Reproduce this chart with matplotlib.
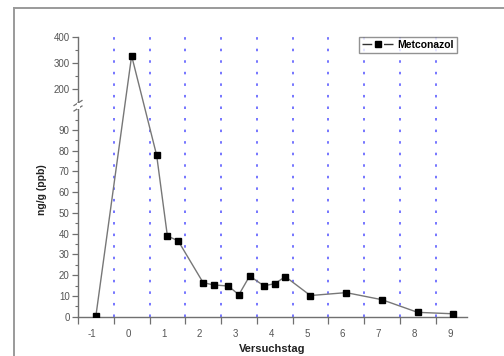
import matplotlib
matplotlib.use("Agg")
import matplotlib.pyplot as plt
import numpy as np
from matplotlib.lines import Line2D

# data
days = [-0.9, 0.1, 0.8, 1.1, 1.4, 2.1, 2.4, 2.8, 3.1, 3.4, 3.8, 4.1, 4.4, 5.1, 6.1, 7.1, 8.1, 9.1]
conc = [0.3, 327, 77.8, 38.9, 36.6, 16.4, 15.3, 14.8, 10.6, 19.6, 14.9, 15.9, 19.3, 10.2, 11.6, 8.2, 2.1, 1.4]
day_labels = [-1, 0, 1, 2, 3, 4, 5, 6, 7, 8, 9]
y_low_ticks = [0, 10, 20, 30, 40, 50, 60, 70, 80, 90]
y_high_ticks = [200, 300, 400]

# broken y axis: 0..~102 linear, then compressed from ~137 upwards
BRK_LO = 101.8
BRK_HI = 136.85
RATIO = 0.12605


def fwd(y):
    y = np.asarray(y, float)
    return np.where(y <= BRK_LO, y,
                    np.where(y >= BRK_HI, BRK_LO + (y - BRK_HI) * RATIO, BRK_LO))


def inv(z):
    z = np.asarray(z, float)
    return np.where(z <= BRK_LO, z, BRK_HI + (z - BRK_LO) / RATIO)


plt.rcParams['font.family'] = ['Liberation Sans', 'DejaVu Sans']

W, H = 504, 356
fig = plt.figure(figsize=(W / 100, H / 100), dpi=100)
ax = fig.add_axes([78 / W, 1 - 316.7 / H, (467 - 78) / W, 280 / H])

# page frame (gray, runs off the right and bottom edge)
fig.add_artist(Line2D([14 / W, 1.0], [1 - 8 / H, 1 - 8 / H], color='#9a9a9a', lw=1.4))
fig.add_artist(Line2D([14 / W, 14 / W], [0, 1 - 8 / H], color='#9a9a9a', lw=1.4))

ax.set_yscale('function', functions=(fwd, inv))
ax.set_xlim(-1.4, 9.48)
ax.set_ylim(0, 400)

# blue dotted vertical grid
grid_x = [d + 0.6 for d in day_labels[:-1]]
for gx in grid_x:
    ax.axvline(gx, color='#6a6aff', lw=1.3, linestyle=(0, (1.4, 5.0)), zorder=1)

ax.plot(days, conc, color='#777777', lw=1.0, marker='s', markersize=3.8,
        markerfacecolor='black', markeredgecolor='black', zorder=3)

for s in ['top', 'right']:
    ax.spines[s].set_visible(False)
for s in ['left', 'bottom']:
    ax.spines[s].set_color('#707070')
    ax.spines[s].set_linewidth(1.0)

tick_col = '#707070'
ax.set_xticks(day_labels)
ax.set_xticklabels([str(d) for d in day_labels])
ax.set_xticks([d - 0.4 for d in day_labels], minor=True)
ax.tick_params(axis='x', which='major', length=0, pad=9, labelsize=7, labelcolor='#555555')
ax.tick_params(axis='x', which='minor', length=5, width=0.9, color=tick_col, direction='out')

ax.set_yticks(y_low_ticks + y_high_ticks)
ax.set_yticklabels([str(v) for v in y_low_ticks + y_high_ticks])
ax.set_yticks([v + 5 for v in y_low_ticks] + [250, 350], minor=True)
ax.tick_params(axis='y', which='major', length=4, width=0.9, color=tick_col, direction='out',
               pad=2, labelsize=7, labelcolor='#555555')
ax.tick_params(axis='y', which='minor', length=2.5, width=0.8, color=tick_col, direction='out')

# axis break marks on the y axis
bx = 78 / W
for yb in [103.0, 108.5]:
    fig.add_artist(Line2D([bx - 4 / W, bx + 4 / W], [1 - (yb + 2.5) / H, 1 - (yb - 2.5) / H],
                          color='#707070', lw=0.9))
fig.add_artist(plt.Rectangle((bx - 1.5 / W, 1 - 108.5 / H), 3 / W, 5.5 / H,
                             facecolor='white', edgecolor='none', zorder=5))

fig.text(272 / W, 1 - 349 / H, 'Versuchstag', ha='center', va='center',
         fontsize=8, fontweight='bold', color='#222222')
fig.text(42 / W, 1 - 190 / H, 'ng/g (ppb)', ha='center', va='center', rotation=90,
         fontsize=7.5, fontweight='bold', color='#222222')

# legend handle in Origin style: line - marker - line with gaps
handle = Line2D([], [], color='#333333', lw=1.0, linestyle=(0, (7.0, 8.5, 7.0, 100)),
                marker='s', markersize=3.8, markerfacecolor='black', markeredgecolor='black')
leg = ax.legend([handle], ['Metconazol'], loc='upper right',
                bbox_to_anchor=((457 - 78) / 389, 1.0), borderaxespad=0,
                frameon=True, fancybox=False, handlelength=3.0,
                handletextpad=0.4, borderpad=0.3, prop={'weight': 'bold', 'size': 7.5})
leg.get_frame().set_edgecolor('#777777')
leg.get_frame().set_linewidth(1.0)

fig.savefig('out.png', dpi=100)
